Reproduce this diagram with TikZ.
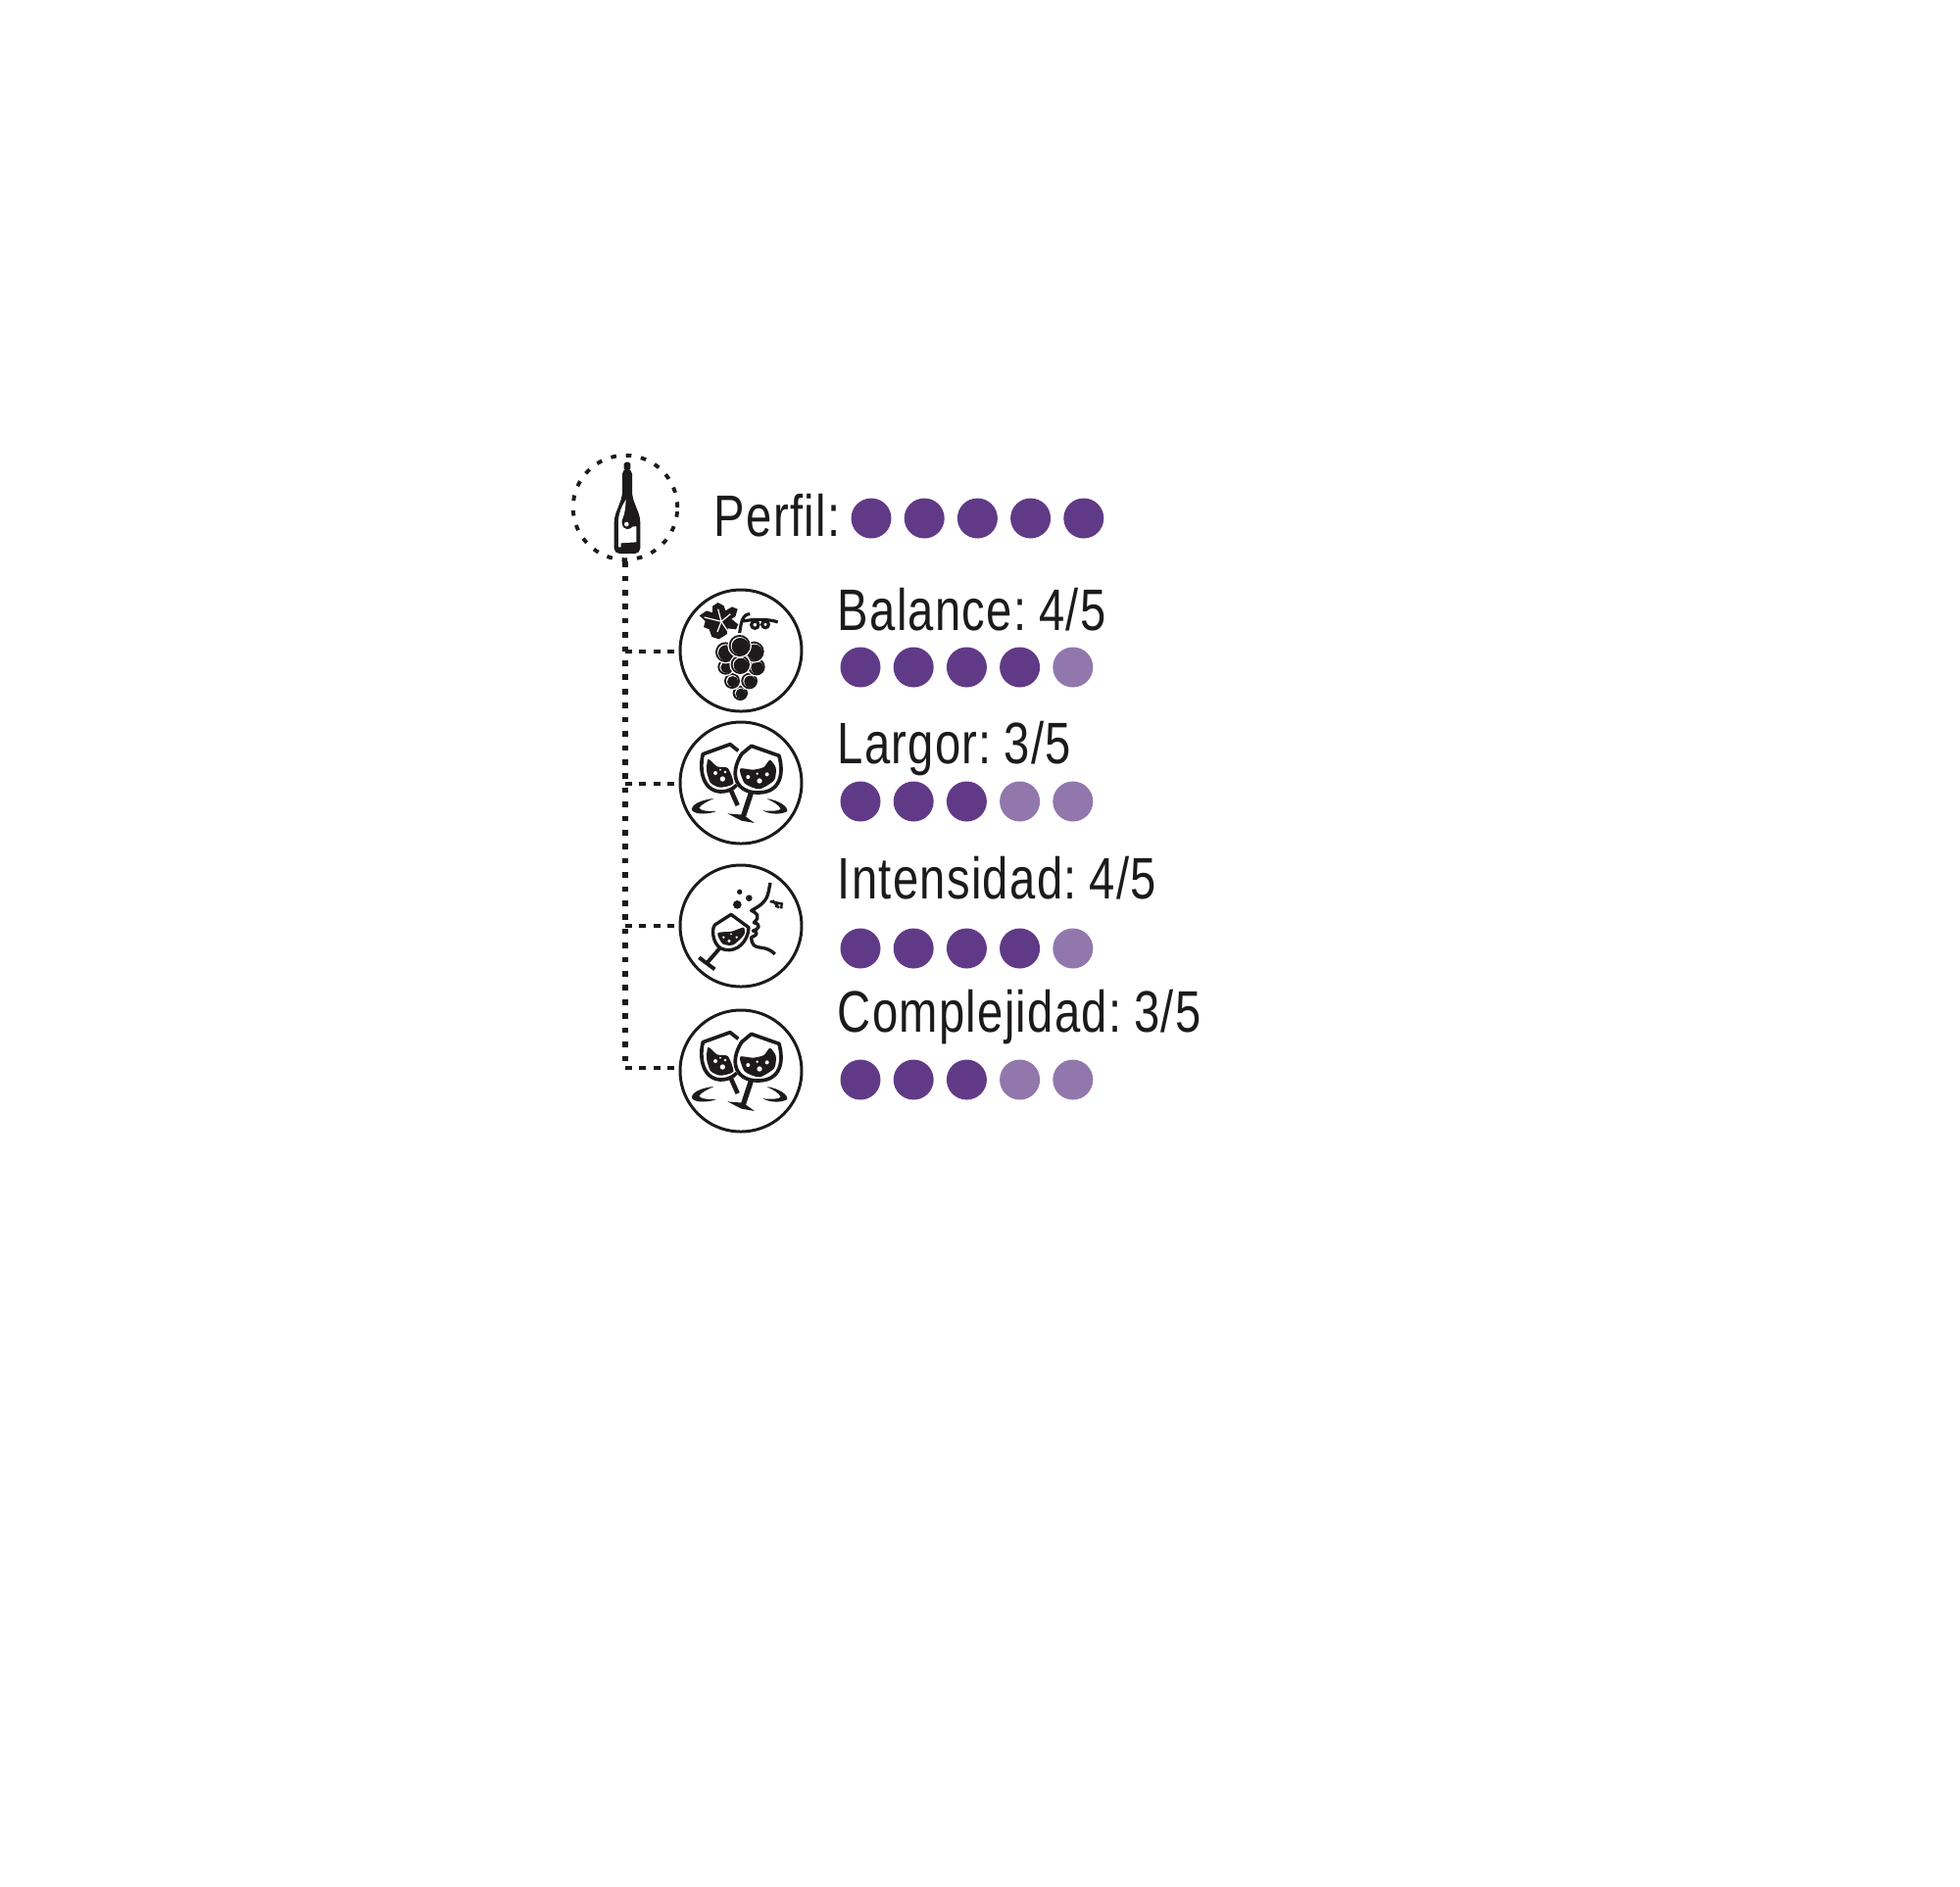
\documentclass[tikz,border=0pt]{standalone}
\usepackage{fontspec}
\setmainfont[FakeStretch=0.79,LetterSpace=2.2,WordSpace=0.55,Ligatures=NoCommon]{Liberation Sans}
\definecolor{inkBlack}{HTML}{1D1A1B}
\definecolor{winePurple}{HTML}{613A87}

\begin{document}
\begin{tikzpicture}
[x=0.1mm,y=-0.1mm,
  lineDecorate/.style={-,line width=1.45pt,inkBlack,dash pattern=on 1.6pt off 2.5pt},%
  branchDecorate/.style={-,line width=1.35pt,inkBlack,dash pattern=on 2pt off 2.1pt},%
  ringDecorate/.style={shape=circle,draw=inkBlack,line width=1.1pt,minimum size=10.65mm,inner sep=0pt,dash pattern=on 1.6pt off 2.8pt},%
  iconDecorate/.style={shape=circle,draw=inkBlack,line width=0.85pt,minimum size=12.4mm,inner sep=0pt},%
  dotDecorate/.style={shape=circle,minimum size=4.1mm,inner sep=0pt},%
  labelDecorate/.style={anchor=base west,inner sep=0pt,text=inkBlack,font=\fontsize{17}{20}\selectfont},%
  iconUnits/.style={x=0.03333mm,y=-0.03333mm},%
  inkFill/.style={fill=inkBlack,draw=none},%
  whiteFill/.style={fill=white,draw=none},%
  bottleIcon/.pic={
    \begin{scope}[iconUnits,shift={(-210,-204)}]
      \fill[inkBlack,rounded corners=0.5pt] (200,65) rectangle (220,90);
      \fill[inkBlack,rounded corners=1.5pt] (195,85) -- (195,170) -- (170,235) -- (170,345)
        -- (250,345) -- (250,235) -- (225,170) -- (225,85) -- cycle;
      \fill[whiteFill] (206,180) .. controls (190,205) and (183,225) .. (183,250) -- (183,325)
        -- (191,325) -- (191,313) -- (238,310) -- (238,262) -- (228,262)
        .. controls (205,285) and (185,255) .. (197,235) .. controls (203,222) and (205,200) .. (206,180) -- cycle;
      \fill[inkBlack] (208,255) circle (13);
      \fill[whiteFill] (208,255) circle (7);
    \end{scope}
  },%
  grapeIcon/.pic={
    \begin{scope}[iconUnits,shift={(-557,-642)}]
      %% leaf
      \fill[inkFill] (430,535) -- (452,520) -- (470,526) -- (470,506) -- (487,495) -- (505,505) -- (510,520)
        -- (530,508) -- (547,515) -- (540,538) -- (528,545) -- (549,562) -- (542,577) -- (517,574)
        -- (514,592) -- (490,607) -- (468,600) -- (460,577) -- (443,570) -- (448,552) -- cycle;
      \draw[white,line width=0.35pt] (445,540) -- (497,553) -- (522,590) (497,553) -- (525,530)
        (497,553) -- (485,585) (497,553) -- (487,515);
      %% tendril
      \draw[inkBlack,line width=0.9pt] (553,588) .. controls (558,555) and (562,530) .. (585,530);
      \draw[inkBlack,line width=0.9pt] (560,552) -- (590,548) .. controls (600,546) and (650,546) .. (670,555);
      \draw[inkBlack,line width=0.9pt] (600,563) circle (11) (632,562) circle (10);
      %% grapes
      \foreach \grapeX/\grapeY/\grapeR in {555/772/22, 530/735/23, 583/735/24, 510/692/23, 605/692/25,
        510/647/30, 597/645/30, 555/685/28, 553/627/32}
      {
        \fill[white] (\grapeX,\grapeY) circle ({\grapeR+5});
        \fill[inkBlack] (\grapeX,\grapeY) circle ({\grapeR+1});
        \fill[white] (\grapeX,\grapeY) circle ({\grapeR-5});
        \fill[inkBlack] (\grapeX+2,\grapeY+2) circle ({\grapeR-6});
      }
    \end{scope}
  },%
  glassesIcon/.pic={
    \begin{scope}[iconUnits,shift={(-408,-238)}]
      %% back glass
      \draw[inkBlack,line width=1.05pt,line join=round] (400,140) -- (375,120) -- (292,150)
        .. controls (280,195) and (290,262) .. (345,265) .. controls (365,265) and (380,260) .. (395,245);
      \fill[inkFill] plot[smooth cycle,tension=.4] coordinates {(308,165) (335,188) (368,193) (385,240)
        (345,252) (315,238) (303,200)};
      \draw[inkBlack,line width=1.3pt] (375,255) -- (398,307);
      \fill[white] (330,208) circle (6) (352,226) circle (8) (360,205) circle (4) (345,198) circle (3);
      %% front glass
      \draw[inkBlack,line width=1.05pt,fill=white,line join=round] (440,125) -- (525,155)
        .. controls (540,210) and (530,268) .. (460,268) .. controls (395,268) and (370,215) .. (410,150) -- cycle;
      \fill[inkFill] plot[smooth cycle,tension=.4] coordinates {(405,195) (445,198) (478,190) (497,168)
        (515,192) (510,230) (465,257) (420,240)};
      \fill[white] (430,220) circle (6) (465,232) circle (8) (458,210) circle (4) (488,212) circle (6);
      \draw[inkBlack,line width=1.5pt] (440,266) -- (414,345);
      \fill[inkFill] (367,332) -- (415,336) -- (450,361) -- (410,354) -- cycle;
      %% splashes
      \fill[inkFill] (325,286) .. controls (285,290) and (255,305) .. (258,322) .. controls (270,337) and (310,334) .. (333,325)
        .. controls (310,325) and (285,325) .. (280,315) .. controls (285,305) and (305,295) .. (325,286) -- cycle;
      \fill[inkFill] (487,286) .. controls (525,292) and (552,310) .. (550,325) .. controls (530,337) and (495,334) .. (475,323)
        .. controls (500,325) and (525,325) .. (530,318) .. controls (525,305) and (505,295) .. (487,286) -- cycle;
    \end{scope}
  },%
  sniffIcon/.pic={
    \begin{scope}[iconUnits,shift={(-408,-675)}]
      %% glass
      \draw[inkBlack,line width=0.95pt,fill=white,line join=round] (378,640) -- (432,680)
        .. controls (430,725) and (395,755) .. (360,748) .. controls (325,745) and (315,690) .. (328,672) -- cycle;
      \fill[inkFill] plot[smooth cycle,tension=.4] coordinates {(337,697) (380,692) (416,680) (418,702)
        (385,733) (352,730)};
      \fill[white] (372,721) circle (5) (395,710) circle (4) (355,710) circle (4) (378,700) circle (3);
      \draw[inkBlack,line width=1.1pt] (342,745) -- (303,790);
      \draw[inkBlack,line width=1.1pt] (280,772) -- (328,808);
      %% bubbles
      \fill[inkBlack] (397,610) circle (13) (433,590) circle (10) (404,571) circle (8);
      %% face
      \draw[inkBlack,line width=0.95pt,line join=round] (498,543) .. controls (490,580) and (495,600) .. (440,628)
        .. controls (455,635) and (470,645) .. (448,665) .. controls (470,670) and (465,685) .. (445,690)
        .. controls (465,695) and (455,705) .. (440,710)
        .. controls (442,760) and (480,725) .. (512,762);
      \draw[inkBlack,line width=0.7pt] (497,600) -- (537,608) (505,597) -- (525,620) (522,602) -- (515,618) (533,604) -- (532,622);
    \end{scope}
  }]
\useasboundingbox (0,0) rectangle (2000,1925);
%% nodes or vertices
\node (bottleRing) at (638,518) [ringDecorate] {};
\pic at (640,518) {bottleIcon};
\foreach \nodename/\x/\y in {
  iconA/756/664, iconB/756/799, iconC/756/945, iconD/756/1093}
{
  \node (\nodename) at (\x,\y) [iconDecorate] {};
}
\pic at (iconA) {grapeIcon};
\pic at (iconB) {glassesIcon};
\pic at (iconC) {sniffIcon};
\pic at (iconD) {glassesIcon};
%% labels
\foreach \nodename/\x/\y/\labeltext in {
  perfilLabel/728/547/{Perfil:},
  balanceLabel/854/643/{Balance: 4/5},
  largorLabel/854/779/{Largor: 3/5},
  intensidadLabel/854/917/{Intensidad: 4/5},
  complejidadLabel/854/1053/{Complejidad: 3/5}}
{
  \node (\nodename) at (\x,\y) [labelDecorate] {\labeltext};
}
%% score dots
\foreach \rowname/\x/\y/\full in {
  perfil/889/529/5, balance/878/681/4, largor/878/818/3,
  intensidad/878/968/4, complejidad/878/1102/3}
{
  \foreach \i [evaluate=\i as \shade using {int(\i>\full ? 69 : 100)}] in {1,...,5}
  {
    \node (\rowname\i) at ({\x+54.2*(\i-1)},\y) [dotDecorate,fill=winePurple!\shade] {};
  }
}
%% edges or lines
\foreach \nodename/\y in {branchA/665, branchB/800, branchC/945, branchD/1090}
{
  \coordinate (\nodename) at (638,\y);
}
\draw[lineDecorate] (bottleRing.south) -- (branchD);
\path
\foreach \startnode/\endnode in {
  branchA/iconA, branchB/iconB, branchC/iconC, branchD/iconD}
{
  (\startnode) edge[branchDecorate,shorten >=0.4mm] (\startnode -| \endnode.west)
};
\end{tikzpicture}
\end{document}
